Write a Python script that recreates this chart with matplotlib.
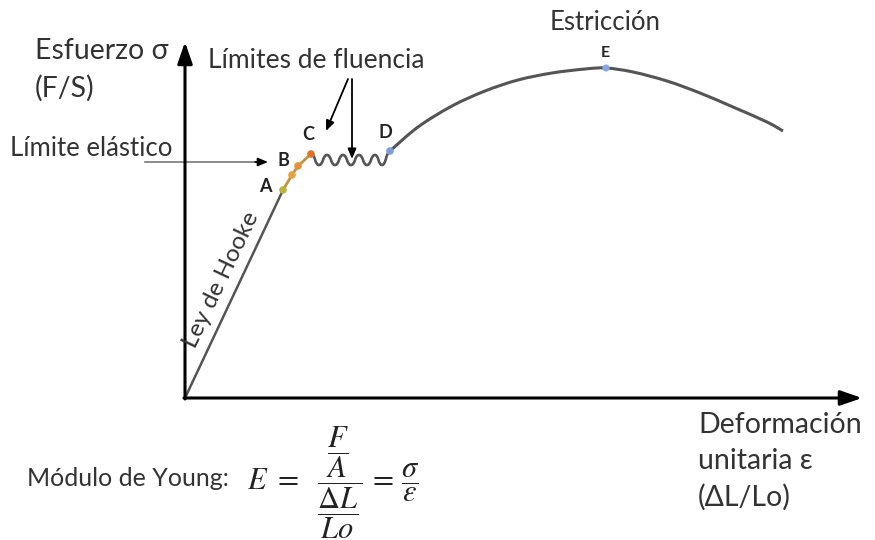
import matplotlib
matplotlib.use("Agg")
import matplotlib.pyplot as plt
from matplotlib.path import Path
from matplotlib.patches import PathPatch

plt.rcParams["font.family"] = ["Lato", "DejaVu Sans"]
plt.rcParams["mathtext.fontset"] = "stix"

W, H = 875, 540

# Diagram coordinates (x to the right, y downward)
origin = (185, 398)
y_axis_top = 42
x_axis_end = 862

# Elastic zone (Hooke's law) and yield points
hooke_x = [185, 283]
hooke_y = [398, 190]
ac_x = [283, 292, 298, 311]
ac_y = [190, 175, 166, 154]
ac_colors = ["#b8b43c", "#e8a040", "#e8903a", "#e0702a"]

# Yield plateau squiggle: successive crests and troughs
wave_x = [311, 319, 327, 335, 343, 351, 359, 367, 375, 382, 390]
wave_y = [154, 165, 155, 165, 155, 165, 155, 165, 155, 165, 152]

# Strain hardening and necking curve
curve_x = [390, 418, 452, 485, 518, 552, 585, 606, 633, 667, 700, 733, 767, 783]
curve_y = [151, 127, 106, 91, 80, 73, 69, 68, 72, 81, 93, 107, 122, 131]
point_D = (390, 151)
point_E = (606, 68)

fig = plt.figure(figsize=(W / 100, H / 100), dpi=100)
ax = fig.add_axes([0, 0, 1, 1])
ax.set_xlim(0, W)
ax.set_ylim(H, 0)
ax.axis("off")

line_col = "#555555"
text_col = "#333333"

# Axes with arrow heads
ax.annotate("", xy=(origin[0], y_axis_top), xytext=(origin[0], origin[1] + 1),
            arrowprops=dict(arrowstyle="-|>,head_length=1.3,head_width=0.45",
                            color="black", lw=2.2, shrinkA=0, shrinkB=0))
ax.annotate("", xy=(x_axis_end, origin[1]), xytext=(origin[0] - 1, origin[1]),
            arrowprops=dict(arrowstyle="-|>,head_length=1.3,head_width=0.45",
                            color="black", lw=2.2, shrinkA=0, shrinkB=0))

# Hooke line and A-C segment
ax.plot(hooke_x, hooke_y, color=line_col, lw=1.8, solid_capstyle="round")
ax.plot(ac_x, ac_y, color="#c89040", lw=2.0, solid_capstyle="round")
ax.scatter(ac_x, ac_y, s=30, c=ac_colors, zorder=5, edgecolors="none")

# Squiggle: cubic Bezier between extremes with flat tangents
verts = [(wave_x[0], wave_y[0])]
codes = [Path.MOVETO]
for i in range(len(wave_x) - 1):
    x0, y0 = wave_x[i], wave_y[i]
    x1, y1 = wave_x[i + 1], wave_y[i + 1]
    d = (x1 - x0) * 0.55
    verts += [(x0 + d, y0), (x1 - d, y1), (x1, y1)]
    codes += [Path.CURVE4] * 3
ax.add_patch(PathPatch(Path(verts, codes), fill=False, ec=line_col, lw=1.9))


def smooth_path(xs, ys):
    """Catmull-Rom curve through the given points, as cubic Bezier segments."""
    p = list(zip(xs, ys))
    n = len(p)
    v = [p[0]]
    c = [Path.MOVETO]
    for i in range(n - 1):
        p0 = p[i - 1] if i > 0 else p[i]
        p1, p2 = p[i], p[i + 1]
        p3 = p[i + 2] if i + 2 < n else p[i + 1]
        c1 = (p1[0] + (p2[0] - p0[0]) / 6, p1[1] + (p2[1] - p0[1]) / 6)
        c2 = (p2[0] - (p3[0] - p1[0]) / 6, p2[1] - (p3[1] - p1[1]) / 6)
        v += [c1, c2, p2]
        c += [Path.CURVE4] * 3
    return Path(v, c)


ax.add_patch(PathPatch(smooth_path(curve_x, curve_y), fill=False, ec=line_col, lw=2.2))

ax.scatter([point_D[0]], [point_D[1]], s=30, c="#7f9be0", zorder=5, edgecolors="none")
ax.scatter([point_E[0]], [point_E[1]], s=26, c="#8aa4ea", zorder=5, edgecolors="none")

# Point labels
for lbl, (x, y), fs in [("A", (265, 186), 13), ("B", (283, 161), 13),
                        ("C", (308, 135), 13), ("D", (385, 133), 13),
                        ("E", (605, 53), 11.5)]:
    ax.text(x, y, lbl, fontsize=fs, fontweight="bold", color="#222222",
            ha="center", va="center")

# Elastic limit arrow
ax.plot([145, 262], [162, 162], color="#777777", lw=1.2)
ax.annotate("", xy=(268, 162), xytext=(255, 162),
            arrowprops=dict(arrowstyle="-|>,head_length=0.6,head_width=0.25",
                            color="black", lw=1.2, shrinkA=0, shrinkB=0))
ax.text(10, 149, "Límite elástico", fontsize=18.5, color=text_col, va="center", ha="left")

# Yield limits arrows
arrow_kw = dict(arrowstyle="-|>,head_length=0.6,head_width=0.25",
                color="black", lw=1.3, shrinkA=0, shrinkB=0)
ax.annotate("", xy=(326, 131), xytext=(348, 79), arrowprops=arrow_kw)
ax.annotate("", xy=(352, 159), xytext=(352, 79), arrowprops=arrow_kw)
ax.text(316, 60, "Límites de fluencia", fontsize=19, color=text_col, ha="center", va="center")

ax.text(605, 22, "Estricción", fontsize=18.5, color=text_col, ha="center", va="center")

# Axis titles
ax.text(35, 51, "Esfuerzo σ", fontsize=20.5, color=text_col, ha="left", va="center")
ax.text(35, 88, "(F/S)", fontsize=20.5, color=text_col, ha="left", va="center")
ax.text(698, 425, "Deformación", fontsize=20.5, color=text_col, ha="left", va="center")
ax.text(698, 461, "unitaria ε", fontsize=20.5, color=text_col, ha="left", va="center")
ax.text(698, 497, "(ΔL/Lo)", fontsize=20.5, color=text_col, ha="left", va="center")

ax.text(221, 280, "Ley de Hooke", fontsize=17.5, color=text_col, rotation=64.5,
        ha="center", va="center", rotation_mode="anchor")

# Young's modulus
ax.text(27, 478, "Módulo de Young:", fontsize=18, color=text_col, ha="left", va="center")
ax.text(247, 483,
        r"$E\ =\ \ \dfrac{\dfrac{F}{A}}{\dfrac{\Delta L}{Lo}}\,=\,\dfrac{\sigma}{\varepsilon}$",
        fontsize=22, color="#222222", ha="left", va="center")

fig.savefig("out.png", dpi=100)
